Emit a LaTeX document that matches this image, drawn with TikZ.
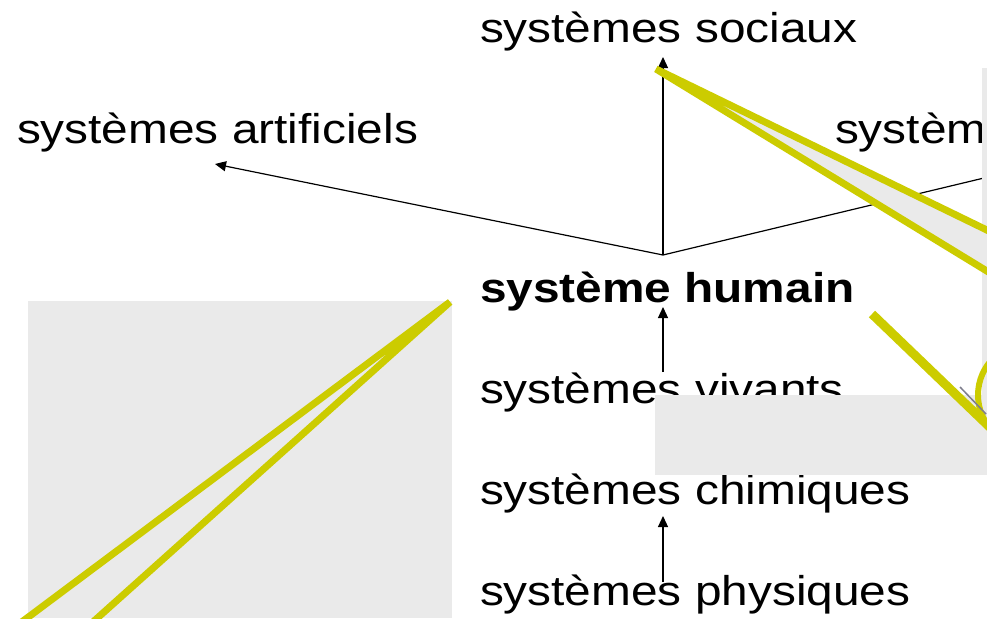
\documentclass[tikz,border=0pt]{standalone}
\usepackage{fontspec}
\setmainfont{Liberation Sans}
\usetikzlibrary{arrows.meta}
\definecolor{panelgray}{RGB}{234,234,234}
\definecolor{yel}{RGB}{204,204,0}
\definecolor{shadowgray}{RGB}{125,125,140}
\newcommand{\squash}[1]{\scalebox{1}[0.87]{#1}}
\tikzset{
  lbl/.style={anchor=base west,inner sep=0pt,outer sep=0pt,font=\fontsize{47.8}{57}\selectfont},
  blbl/.style={lbl,font=\fontsize{47.8}{57}\selectfont\bfseries},
  conn/.style={line width=1.2pt,black},
  arr/.style={conn,-{Triangle[length=11pt,width=10pt]}},
  panel/.style={fill=panelgray,draw=none},
  yline/.style={draw=yel,line width=7pt,line cap=butt,line join=bevel},
}
\begin{document}
\begin{tikzpicture}[x=1pt,y=-1pt]
\useasboundingbox (0,0) rectangle (987,618);
\clip (0,0) rectangle (987,618);
\fill[white] (0,0) rectangle (987,618);
% texts
\node[lbl] (soc) at (480,42) {\squash{systèmes sociaux}};
\node[lbl] (art) at (17,143) {\squash{systèmes artificiels}};
\node[lbl] (tec) at (835,143) {\squash{systèm}};
\node[blbl] (hum) at (480,302) {\squash{système humain}};
\node[lbl] (viv) at (480,403) {\squash{systèmes vivants}};
\node[lbl] (chi) at (480,504) {\squash{systèmes chimiques}};
\node[lbl] (phy) at (480,605) {\squash{systèmes physiques}};
% connector points
\coordinate (hub) at (663,255);
\coordinate (socTip) at (663,57);
\coordinate (artTip) at (215,164);
\coordinate (tecEnd) at (984,178);
\coordinate (vivTail) at (663,372);
\coordinate (humTip) at (663,307);
\coordinate (phyTail) at (663,582);
\coordinate (chiTip) at (663,516);
% black connectors
\draw[arr] (hub) -- (socTip);
\draw[arr] (hub) -- (artTip);
\draw[conn] (hub) -- (tecEnd);
\draw[arr] (vivTail) -- (humTip);
\draw[arr] (phyTail) -- (chiTip);
% gray panels
\fill[panel] (28,301) rectangle (452,618);
\fill[panel] (982,68) rectangle (987,475);
\fill[panel] (655,395) rectangle (987,475);
% yellow callout wedges
\coordinate (topApex) at (656,69);
\coordinate (topA) at (995,234);
\coordinate (topB) at (995,276);
\fill[panelgray] (topApex) -- (topA) -- (topB) -- cycle;
\draw[yline] (topA) -- (topApex) -- (topB);
\coordinate (leftApex) at (450,302);
\coordinate (leftA) at (11,630);
\coordinate (leftB) at (84,630);
\draw[yline] (leftA) -- (leftApex) -- (leftB);
% right callout
\coordinate (diagS) at (872,314);
\coordinate (diagE) at (1000,437);
\draw[draw=yel,line width=9pt,line cap=butt] (diagS) -- (diagE);
\draw[draw=yel,line width=6pt] (1030,395) circle[radius=52pt];
\draw[draw=shadowgray,line width=1.5pt] (960,387) -- (986,414);
\end{tikzpicture}
\end{document}
